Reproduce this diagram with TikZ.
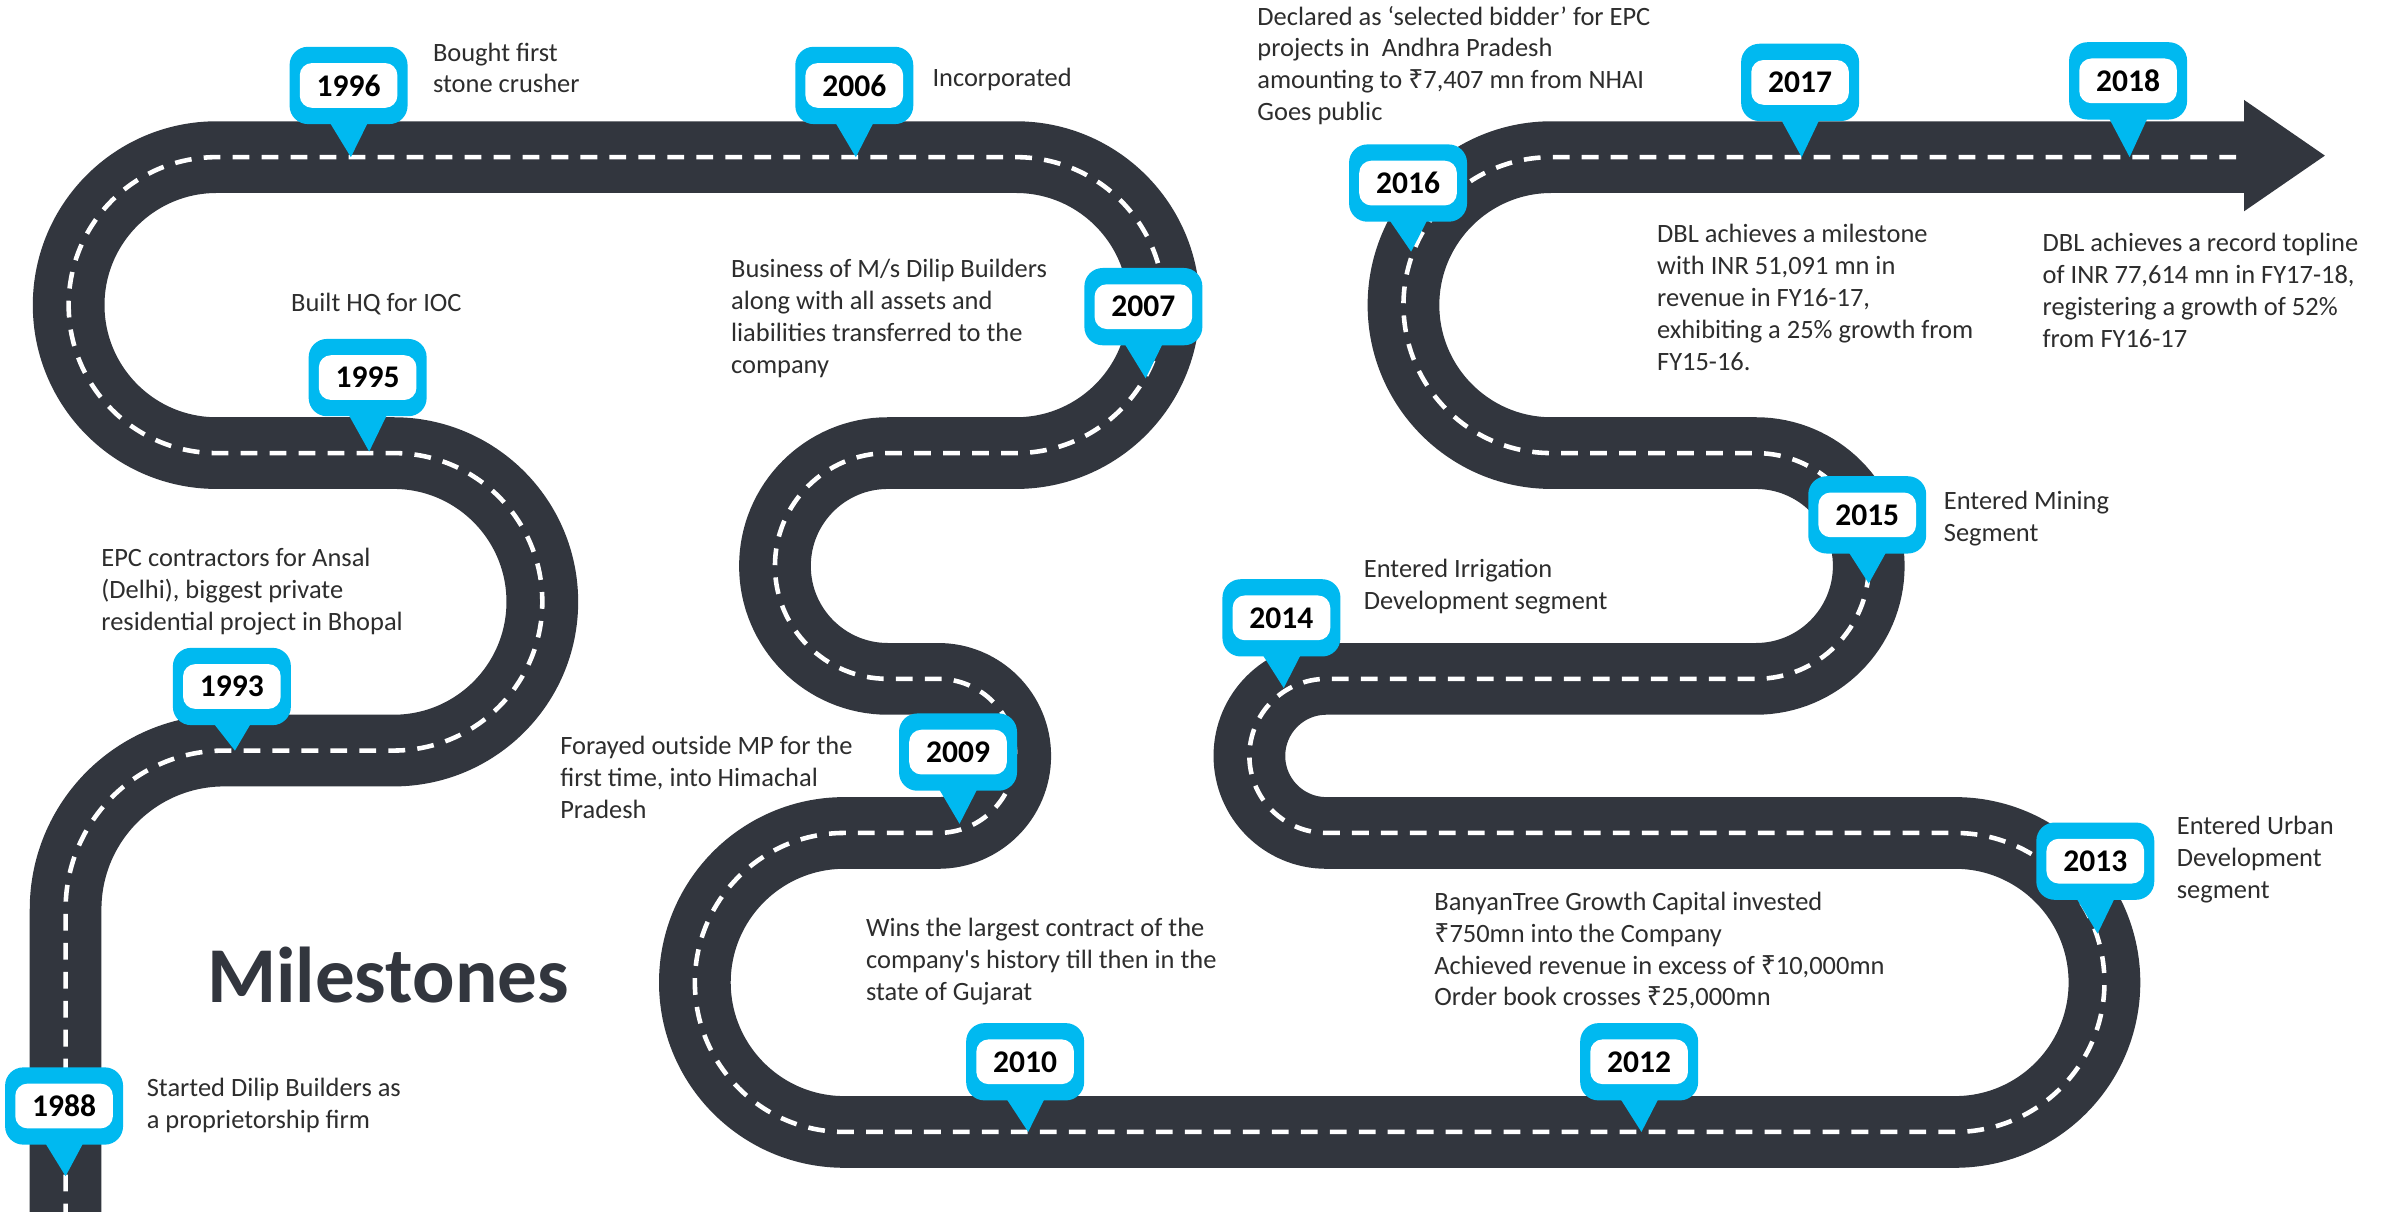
\documentclass[tikz,border=0pt]{standalone}
\usepackage{fontspec}
\setmainfont{Carlito}
\newfontfamily\rupeefont{Noto Sans}
\usetikzlibrary{calc}

\definecolor{road}{RGB}{50,54,62}
\definecolor{pinblue}{RGB}{0,185,240}
\definecolor{txtgray}{RGB}{45,45,45}

\newcommand{\rupee}{{\rupeefont ₹}}
\newcommand{\textlines}[1]{\begin{tabular}[t]{@{}l@{}}#1\end{tabular}}
% year marker: name, box centre x/y, tip x/y, year
\newcommand{\yearpin}[6]{%
  \node[pinbox] (#1) at (#2,#3) {};
  \coordinate (#1-tip) at (#4,#5);
  \fill[pinblue] ($(#1.south)+(-14,-4)$) -- (#1-tip) -- ($(#1.south)+(14,-4)$) -- cycle;
  \node[pinlabel] (#1-year) at (#1.center) {#6};
}

\begin{document}
\begin{tikzpicture}[x=0.75pt,y=-0.75pt,
  roadbase/.style={draw=road, line width=35.25pt},
  roadmark/.style={draw=white, line width=2.25pt, dash pattern=on 8.25pt off 6pt},
  pinbox/.style={rectangle, fill=pinblue, rounded corners=9pt, minimum width=58pt, minimum height=38pt, inner sep=0pt},
  pinlabel/.style={rectangle, fill=white, rounded corners=6pt, minimum width=48pt, minimum height=22pt, inner sep=0pt, text=black, font=\fontsize{15.5}{18}\selectfont\bfseries},
  note/.style={anchor=base west, inner sep=0pt, text=txtgray, font=\fontsize{13}{15.7}\selectfont},
]
\fill[white] (0,0) rectangle (1568,794);
\useasboundingbox (0,0) rectangle (1568,794);

% the winding road with its centre marking
\begin{scope}
\clip (0,0) rectangle (1568,794);
\draw[roadbase, postaction={roadmark}]
  (43,800) -- (43,596)
  arc[start angle=180, end angle=270, radius=104]
  -- (258,492)
  arc[start angle=90, end angle=-90, radius=97.5]
  -- (142,297)
  arc[start angle=90, end angle=270, radius=97]
  -- (666,103)
  arc[start angle=-90, end angle=90, radius=97]
  -- (582,297)
  arc[start angle=270, end angle=90, radius=74]
  -- (615,445)
  arc[start angle=-90, end angle=90, radius=50.5]
  -- (553.5,546)
  arc[start angle=270, end angle=90, radius=98]
  -- (1281.5,742)
  arc[start angle=90, end angle=-90, radius=98]
  -- (869.5,546)
  arc[start angle=90, end angle=270, radius=50.5]
  -- (1151,445)
  arc[start angle=90, end angle=-90, radius=74]
  -- (1017,297)
  arc[start angle=90, end angle=270, radius=97]
  -- (1473,103);
\fill[road] (1471,65.5) -- (1524,102) -- (1471,138.5) -- cycle;
\end{scope}

% year markers
\yearpin{p1988}{42}{725}{43}{771}{1988}
\yearpin{p1993}{152}{450}{154}{492}{1993}
\yearpin{p1995}{241}{247.5}{242}{296}{1995}
\yearpin{p1996}{228.5}{56}{230}{103}{1996}
\yearpin{p2006}{560}{56}{561}{103}{2006}
\yearpin{p2007}{749.5}{201}{751}{248}{2007}
\yearpin{p2009}{628}{493}{629}{540}{2009}
\yearpin{p2010}{672}{696}{674}{742}{2010}
\yearpin{p2012}{1074.5}{696}{1076}{742}{2012}
\yearpin{p2013}{1373.5}{564.5}{1375}{612}{2013}
\yearpin{p2014}{840}{405}{841.5}{451}{2014}
\yearpin{p2015}{1224}{337.5}{1225}{382.5}{2015}
\yearpin{p2016}{923}{120}{925}{165}{2016}
\yearpin{p2017}{1180}{54}{1181}{103}{2017}
\yearpin{p2018}{1395}{53}{1396}{103}{2018}

% event descriptions
\node[note] (t1996) at (283.6,40) {\textlines{Bought first\\stone crusher}};
\node[note] (t2006) at (611,56.4) {\textlines{Incorporated}};
\node[note] (t2016) at (824,16.4) {\textlines{Declared as ‘selected bidder’ for EPC\\projects in~ Andhra Pradesh\\amounting to \rupee7,407 mn from NHAI\\Goes public}};
\node[note] (t1995) at (190.6,204.3) {\textlines{Built HQ for IOC}};
\node[note] (t2007) at (479,182) {\textlines{Business of M/s Dilip Builders\\along with all assets and\\liabilities transferred to the\\company}};
\node[note] (t2017) at (1086,159) {\textlines{DBL achieves a milestone\\with INR 51,091 mn in\\revenue in FY16-17,\\exhibiting a 25\% growth from\\FY15-16.}};
\node[note] (t2018) at (1338.7,165) {\textlines{DBL achieves a record topline\\of INR 77,614 mn in FY17-18,\\registering a growth of 52\%\\from FY16-17}};
\node[note] (t1993) at (66.2,371.4) {\textlines{EPC contractors for Ansal\\(Delhi), biggest private\\residential project in Bhopal}};
\node[note] (t2009) at (367,494.4) {\textlines{Forayed outside MP for the\\first time, into Himachal\\Pradesh}};
\node[note] (t1988) at (96,719) {\textlines{Started Dilip Builders as\\a proprietorship firm}};
\node[note] (t2010) at (567.5,613.8) {\textlines{Wins the largest contract of the\\company\textquotesingle s history till then in the\\state of Gujarat}};
\node[note] (t2014) at (893.8,378.7) {\textlines{Entered Irrigation\\Development segment}};
\node[note] (t2015) at (1274,334) {\textlines{Entered Mining\\Segment}};
\node[note] (t2013) at (1426.7,547) {\textlines{Entered Urban\\Development\\segment}};
\node[note] (t2012) at (940,596.6) {\textlines{BanyanTree Growth Capital invested\\\rupee750mn into the Company\\Achieved revenue in excess of \rupee10,000mn\\Order book crosses \rupee25,000mn}};

% title
\node[anchor=base west, inner sep=0pt, text=road, font=\fontsize{38.9}{46}\selectfont\bfseries] (title) at (135.5,657) {Milestones};
\end{tikzpicture}
\end{document}
